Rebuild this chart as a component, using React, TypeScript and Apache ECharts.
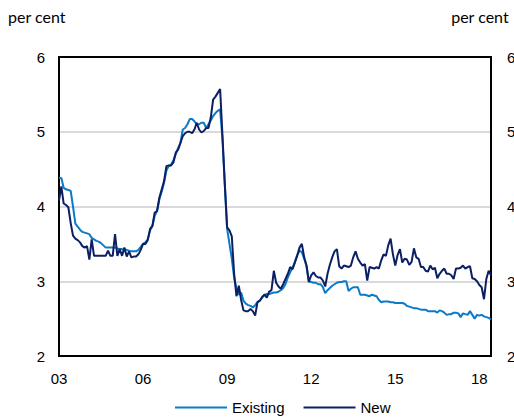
import React, { useEffect, useRef } from "react";
import * as echarts from "echarts";

const START_YEAR = 2003;
const N_MONTHS = 186;
const MONTHS: string[] = Array.from({ length: N_MONTHS }, (_, i) => {
  const y = START_YEAR + Math.floor(i / 12);
  const m = (i % 12) + 1;
  return `${y}-${m < 10 ? "0" + m : m}`;
});
const TICK_LABELS = ["03", "06", "09", "12", "15", "18"];
const Y_TICKS = [2, 3, 4, 5, 6];

const EXISTING = [
  4.38, 4.38, 4.25, 4.23, 4.22, 4.21, 4.0, 3.77, 3.73, 3.69, 3.66, 3.65,
  3.64, 3.63, 3.58, 3.56, 3.54, 3.53, 3.51, 3.48, 3.45, 3.45, 3.45, 3.45,
  3.45, 3.44, 3.43, 3.43, 3.42, 3.42, 3.41, 3.4, 3.4, 3.4, 3.42, 3.46,
  3.5, 3.52, 3.56, 3.68, 3.74, 3.88, 3.94, 4.1, 4.2, 4.32, 4.48, 4.54,
  4.56, 4.62, 4.7, 4.78, 4.85, 5.03, 5.05, 5.1, 5.17, 5.17, 5.14, 5.1,
  5.1, 5.12, 5.12, 5.05, 5.1, 5.15, 5.21, 5.25, 5.28, 5.3, 4.9, 4.3,
  3.7, 3.5, 3.3, 3.05, 2.9, 2.82, 2.85, 2.74, 2.7, 2.68, 2.67, 2.65,
  2.68, 2.72, 2.74, 2.78, 2.82, 2.83, 2.83, 2.84, 2.85, 2.85, 2.86, 2.88,
  2.91, 2.96, 3.05, 3.12, 3.18, 3.26, 3.35, 3.41, 3.39, 3.3, 3.2, 3.0,
  2.99, 2.98, 2.98, 2.96, 2.96, 2.92, 2.84, 2.88, 2.91, 2.94, 2.96, 2.98,
  2.99, 2.99, 3.0, 3.0, 2.87, 2.9, 2.92, 2.92, 2.92, 2.82, 2.82, 2.82,
  2.81, 2.8, 2.82, 2.81, 2.8, 2.75, 2.72, 2.73, 2.73, 2.73, 2.72, 2.72,
  2.71, 2.71, 2.71, 2.71, 2.7, 2.67, 2.66, 2.65, 2.64, 2.64, 2.63, 2.62,
  2.62, 2.62, 2.6, 2.6, 2.6, 2.6, 2.58, 2.61, 2.6, 2.58, 2.55, 2.56,
  2.56, 2.58, 2.58, 2.57, 2.52, 2.57, 2.56, 2.55, 2.6, 2.55, 2.5, 2.55,
  2.54, 2.55, 2.53, 2.52, 2.51, 2.49,
];

const NEW = [
  4.08, 4.27, 4.04, 4.02, 3.99, 3.78, 3.61, 3.57, 3.55, 3.52, 3.47, 3.45,
  3.47, 3.29, 3.56, 3.34, 3.34, 3.34, 3.34, 3.34, 3.34, 3.41, 3.34, 3.34,
  3.63, 3.34, 3.43, 3.34, 3.45, 3.33, 3.4, 3.32, 3.33, 3.33, 3.36, 3.42,
  3.5, 3.5, 3.55, 3.7, 3.74, 3.92, 3.94, 4.12, 4.23, 4.34, 4.54, 4.55,
  4.55, 4.59, 4.72, 4.76, 4.85, 4.94, 4.98, 5.0, 5.0, 4.98, 5.03, 5.12,
  5.03, 4.99, 5.01, 5.05, 5.05, 5.19, 5.43, 5.47, 5.52, 5.57, 4.95, 4.3,
  3.72, 3.68, 3.6, 3.1, 2.8, 2.94, 2.75, 2.61, 2.6, 2.6, 2.63, 2.6,
  2.54, 2.72, 2.74, 2.79, 2.82, 2.78, 2.86, 2.88, 3.14, 2.98, 2.93, 2.9,
  2.96, 3.03, 3.1, 3.19, 3.16, 3.25, 3.34, 3.45, 3.5, 3.32, 3.21, 2.99,
  3.08, 3.12, 3.07, 3.05, 3.05, 3.01, 2.93, 3.1, 3.22, 3.32, 3.4, 3.43,
  3.2, 3.17, 3.21, 3.2, 3.19, 3.21, 3.32, 3.4, 3.3, 3.25, 3.21, 3.23,
  3.01, 3.19, 3.18, 3.17, 3.19, 3.17, 3.28, 3.36, 3.34, 3.48, 3.57, 3.36,
  3.21, 3.35, 3.43, 3.25, 3.3, 3.29, 3.22, 3.26, 3.44, 3.32, 3.3, 3.19,
  3.19, 3.14, 3.13, 3.21, 3.16, 3.18, 3.04, 3.1, 3.14, 3.17, 3.1, 3.1,
  3.08, 3.03, 3.17, 3.17, 3.18, 3.21, 3.17, 3.19, 3.2, 3.04, 3.03, 3.0,
  2.95, 2.92, 2.76, 3.03, 3.14, 3.08,
];

const COLOR_EXISTING = "#0b7bc6";
const COLOR_NEW = "#0c1f63";
const FONT = "'Liberation Sans', Arial, sans-serif";

export default function App() {
  const ref = useRef<HTMLDivElement>(null);
  useEffect(() => {
    if (!ref.current) return;
    const chart = echarts.init(ref.current, null, { renderer: "svg" });
    const blackLine = { show: true, lineStyle: { color: "#000000", width: 2 } };
    const yAxisBase = {
      type: "value" as const,
      min: Y_TICKS[0],
      max: Y_TICKS[Y_TICKS.length - 1],
      interval: 1,
      axisLine: blackLine,
      axisTick: { show: false },
    };
    chart.setOption({
      animation: false,
      backgroundColor: "#ffffff",
      grid: {
        left: 59,
        right: 23,
        top: 57,
        bottom: 61,
        show: true,
        borderColor: "#000000",
        borderWidth: 2,
        backgroundColor: "transparent",
        containLabel: false,
        outerBoundsMode: "none",
      },
      graphic: [
        {
          type: "text",
          left: 8,
          top: 8,
          style: { text: "per cent", font: `16px Lato, ${FONT}`, fill: "#000" },
        },
        {
          type: "text",
          right: 5,
          top: 8,
          style: { text: "per cent", font: `16px Lato, ${FONT}`, fill: "#000" },
        },
      ],
      legend: {
        left: 170,
        top: 395,
        itemWidth: 52,
        itemHeight: 2,
        itemGap: 19,
        icon: "rect",
        textStyle: { fontFamily: FONT, fontSize: 15, color: "#000" },
        data: ["Existing", "New"],
      },
      xAxis: [
        {
          type: "category",
          data: MONTHS,
          boundaryGap: false,
          position: "bottom",
          axisLine: blackLine,
          axisTick: { show: false },
          splitLine: { show: false },
          axisLabel: {
            interval: (index: number) => index % 36 === 0,
            formatter: (_v: string, index: number) => TICK_LABELS[Math.floor(index / 36)] ?? "",
            fontFamily: FONT,
            fontSize: 15,
            color: "#000",
            margin: 15,
          },
        },
      ],
      yAxis: [
        {
          ...yAxisBase,
          position: "left",
          splitLine: {
            show: true,
            showMinLine: false,
            showMaxLine: false,
            lineStyle: { color: "#d9d9d9", width: 2 },
          },
          axisLabel: { fontFamily: FONT, fontSize: 15, color: "#000", margin: 14 },
        },
        {
          ...yAxisBase,
          position: "right",
          splitLine: { show: false },
          axisLabel: { fontFamily: FONT, fontSize: 15, color: "#000", margin: 16 },
        },
      ],
      series: [
        {
          name: "Existing",
          type: "line",
          data: EXISTING,
          showSymbol: false,
          symbol: "none",
          color: COLOR_EXISTING,
          lineStyle: { color: COLOR_EXISTING, width: 2 },
          yAxisIndex: 0,
        },
        {
          name: "New",
          type: "line",
          data: NEW,
          showSymbol: false,
          symbol: "none",
          color: COLOR_NEW,
          lineStyle: { color: COLOR_NEW, width: 2 },
          yAxisIndex: 0,
        },
      ],
    });
    return () => chart.dispose();
  }, []);
  return (
    <div
      ref={ref}
      style={{ position: "fixed", left: 0, top: 0, width: 514, height: 417 }}
    />
  );
}
